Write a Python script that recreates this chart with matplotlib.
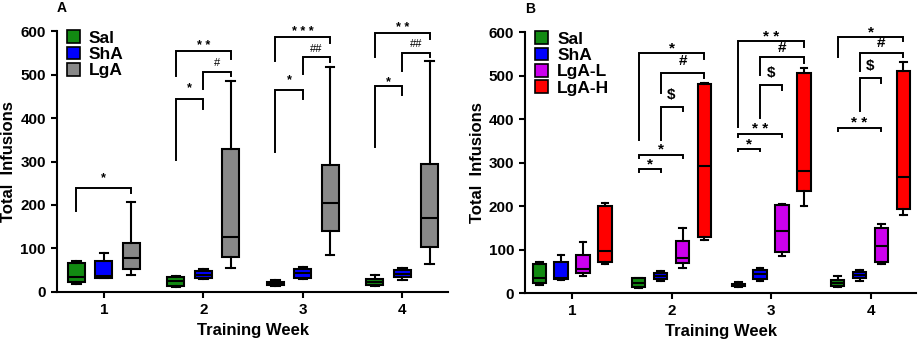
import matplotlib
matplotlib.use('Agg')
import matplotlib.pyplot as plt
from matplotlib.patches import Patch

plt.rcParams['font.family'] = ['Liberation Sans', 'DejaVu Sans']
plt.rcParams['font.weight'] = 'bold'
plt.rcParams['axes.labelweight'] = 'bold'

# data: five-number summaries per week (whislo, q1, med, q3, whishi)
weeks = [1, 2, 3, 4]

sal = [(19, 23, 35, 67, 71), (12, 14, 24, 34, 36), (14, 16, 19, 22, 27), (14, 16, 23, 30, 40)]
sha = [(31, 33, 36, 71, 89), (29, 33, 40, 47, 52), (29, 33, 44, 53, 57), (28, 34, 42, 50, 54)]
lga = [(39, 52, 77, 112, 206), (56, 80, 127, 328, 485), (85, 140, 204, 293, 518), (65, 104, 170, 295, 531)]
lga_l = [(39, 46, 55, 88, 118), (57, 69, 80, 119, 149), (85, 95, 144, 202, 205), (67, 71, 109, 149, 159)]
lga_h = [(67, 73, 98, 201, 207), (123, 130, 293, 481, 484), (201, 234, 282, 507, 518), (181, 193, 268, 512, 531)]

# significance brackets: (week, group i, group j, top, leg i bottom, leg j bottom, label, text y)
sig_a = [
    (1, 0, 2, 239, 186, 228, '*', 262),
    (2, 0, 1, 444, 303, 422, '*', 468),
    (2, 0, 2, 554, 497, 537, '* *', 566),
    (2, 1, 2, 506, 466, 497, '#', 526),
    (3, 0, 1, 464, 322, 443, '*', 488),
    (3, 0, 2, 587, 532, 573, '* * *', 598),
    (3, 1, 2, 540, 501, 530, '##', 560),
    (4, 0, 1, 474, 334, 453, '*', 482),
    (4, 0, 2, 596, 540, 583, '* *', 607),
    (4, 1, 2, 549, 508, 540, '##', 570),
]
sig_b = [
    (2, 0, 1, 286, 278, 278, '*', 297),
    (2, 0, 2, 318, 312, 312, '*', 330),
    (2, 1, 2, 429, 352, 418, '$', 456),
    (2, 1, 3, 506, 461, 494, '#', 533),
    (2, 0, 3, 552, 352, 538, '*', 562),
    (3, 0, 1, 332, 326, 326, '*', 342),
    (3, 0, 2, 365, 360, 360, '* *', 377),
    (3, 1, 2, 479, 402, 467, '$', 507),
    (3, 1, 3, 542, 502, 529, '#', 563),
    (3, 0, 3, 581, 382, 567, '* *', 590),
    (4, 0, 2, 379, 373, 373, '* *', 391),
    (4, 1, 2, 494, 419, 483, '$', 523),
    (4, 1, 3, 552, 510, 542, '#', 575),
    (4, 0, 3, 590, 544, 579, '*', 600),
]


def draw_panel(ax, groups, names, colors, offsets, width, sigs, star_size, sym_size, letter):
    for g, (data, color) in enumerate(zip(groups, colors)):
        stats = [dict(whislo=d[0], q1=d[1], med=d[2], q3=d[3], whishi=d[4], fliers=[])
                 for d in data]
        pos = [w + offsets[g] for w in weeks]
        ax.bxp(stats, positions=pos, widths=width, capwidths=width * 0.5,
               patch_artist=True, showfliers=False, manage_ticks=False,
               boxprops=dict(facecolor=color, edgecolor='black', linewidth=1.5),
               medianprops=dict(color='black', linewidth=1.5),
               whiskerprops=dict(color='black', linewidth=1.5),
               capprops=dict(color='black', linewidth=1.5))

    for week, i, j, top, bi, bj, label, ty in sigs:
        xi = week + offsets[i]
        xj = week + offsets[j]
        ax.plot([xi, xi, xj, xj], [bi, top, top, bj], color='black', lw=1.4,
                clip_on=False, solid_joinstyle='miter')
        if label.startswith('*'):
            ax.text((xi + xj) / 2, ty, label, ha='center', va='center',
                    fontsize=star_size, fontweight='bold')
        else:
            ax.text((xi + xj) / 2, ty, label, ha='center', va='center',
                    fontsize=sym_size, fontweight='bold' if sym_size > 9 else 'normal')

    ax.set_xlim(0.53, 4.46)
    ax.set_ylim(0, 600)
    ax.set_xticks(weeks)
    ax.set_yticks(range(0, 601, 100))
    ax.tick_params(labelsize=11, width=1.5, length=4.5)
    ax.spines['top'].set_visible(False)
    ax.spines['right'].set_visible(False)
    ax.spines['left'].set_linewidth(1.5)
    ax.spines['bottom'].set_linewidth(1.5)
    ax.set_xlabel('Training Week', fontsize=12, labelpad=4)
    ax.set_ylabel('Total  Infusions', fontsize=12, labelpad=3)

    handles = [Patch(facecolor=c, edgecolor='black', linewidth=1.2, label=n)
               for n, c in zip(names, colors)]
    ax.legend(handles=handles, loc='upper left', frameon=False, fontsize=12.5,
              handlelength=0.75, handleheight=0.75, handletextpad=0.5,
              labelspacing=0.05, borderaxespad=0.0, bbox_to_anchor=(0.008, 1.03))
    ax.text(0.013, 1.09, letter, transform=ax.transAxes, fontsize=10,
            ha='center', va='center')


fig = plt.figure(figsize=(9.2, 3.43), dpi=100)
ax_a = fig.add_axes([0.062, 0.149, 0.425, 0.760])
ax_b = fig.add_axes([0.571, 0.145, 0.425, 0.761])

draw_panel(ax_a, [sal, sha, lga], ['Sal', 'ShA', 'LgA'],
           ['#128a12', '#0000ff', '#888888'], [-0.275, 0.0, 0.275], 0.17,
           sig_a, 9, 8, 'A')
draw_panel(ax_b, [sal, sha, lga_l, lga_h], ['Sal', 'ShA', 'LgA-L', 'LgA-H'],
           ['#128a12', '#0000ff', '#cc00ee', '#ff0000'], [-0.33, -0.11, 0.11, 0.33], 0.135,
           sig_b, 11, 11, 'B')

fig.savefig('out.png', dpi=100)
